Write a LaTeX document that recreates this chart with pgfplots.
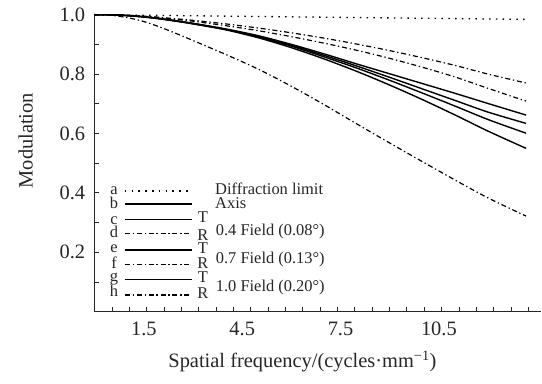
\documentclass[border=0pt]{standalone}
\usepackage{fontspec}
\setmainfont{Liberation Serif}
\usepackage{pgfplots}
\usepackage{pgfplotstable}
\pgfplotsset{compat=1.18}

\pgfplotstableread{
x     a      b      c      d      e      f      g      h
0     1      1      1      1      1      1      1      1
0.5   0.9994 0.9995 0.9995 0.9996 0.9995 0.9995 0.9995 0.998
1     0.9988 0.997  0.997  0.998  0.997  0.998  0.997  0.990
1.5   0.9982 0.993  0.993  0.995  0.993  0.994  0.992  0.977
2     0.9976 0.987  0.987  0.991  0.986  0.990  0.986  0.958
2.5   0.9970 0.979  0.979  0.986  0.978  0.984  0.978  0.936
3     0.9964 0.971  0.970  0.981  0.970  0.978  0.969  0.913
4     0.9952 0.952  0.951  0.969  0.950  0.963  0.949  0.866
5     0.9940 0.929  0.927  0.955  0.925  0.946  0.922  0.816
6     0.9928 0.900  0.897  0.939  0.894  0.926  0.889  0.759
7     0.9916 0.868  0.863  0.921  0.858  0.904  0.851  0.697
8     0.9904 0.834  0.827  0.901  0.820  0.880  0.809  0.632
9     0.9892 0.801  0.789  0.879  0.779  0.853  0.763  0.568
10    0.9880 0.768  0.750  0.855  0.736  0.823  0.714  0.505
11    0.9868 0.735  0.711  0.829  0.692  0.790  0.662  0.443
12    0.9856 0.701  0.672  0.800  0.647  0.752  0.608  0.383
13.16 0.9842 0.662  0.634  0.770  0.601  0.709  0.550  0.322
}\mtf

\tikzset{
  dashdot/.style={line width=1.2bp, dash pattern=on 5bp off 2.8bp on 1.3bp off 2.8bp},
  dotline/.style={line width=1.3bp, dash pattern=on 1.5bp off 5.3bp},
  solidline/.style={line width=1.4bp},
}

\begin{document}
\begin{tikzpicture}
\begin{axis}[
  scale only axis,
  width=445.8bp, height=297bp,
  xmin=0, xmax=13.6, ymin=0, ymax=1.0,
  clip=false,
  axis x line=bottom, axis y line=left,
  axis line style={line width=1.3bp, black!85, -},
  tick align=inside,
  major tick length=4.5bp, minor tick length=4.5bp,
  tick style={line width=1bp, black!85},
  xtick={1.5,4.5,7.5,10.5},
  xticklabels={1.5,4.5,7.5,10.5},
  major x tick style={draw=none},
  minor xtick={0.529,1.059,1.588,2.117,2.647,3.176,3.705,4.234,4.764,5.293,5.822,6.352,6.881,7.410,7.940,8.469,8.998,9.527,10.057,10.586,11.115,11.645,12.174,12.703,13.233},
  ytick={0.2,0.4,0.6,0.8,1.0},
  yticklabels={0.2,0.4,0.6,0.8,1.0},
  minor ytick={0.1,0.3,0.5,0.7,0.9},
  /pgf/number format/assume math mode=true,
  tick label style={font=\fontsize{20.5}{24}\selectfont, text=black!85},
  yticklabel style={xshift=-6bp},
  xticklabel style={yshift=-7bp},
  xlabel={Spatial frequency/(cycles·mm\textsuperscript{−1})},
  ylabel={Modulation},
  label style={font=\fontsize{20.5}{24}\selectfont, text=black!85},
  xlabel style={at={(axis description cs:0.466,-0.168)}, anchor=center},
  ylabel style={at={(axis description cs:-0.155,0.576)}, anchor=center, rotate=0},
]
\addplot[dotline] table[x=x,y=a]{\mtf};
\addplot[solidline, smooth] table[x=x,y=b]{\mtf};
\addplot[solidline, smooth] table[x=x,y=c]{\mtf};
\addplot[dashdot, smooth] table[x=x,y=d]{\mtf};
\addplot[solidline, smooth] table[x=x,y=e]{\mtf};
\addplot[dashdot, smooth] table[x=x,y=f]{\mtf};
\addplot[solidline, smooth] table[x=x,y=g]{\mtf};
\addplot[dashdot, smooth] table[x=x,y=h]{\mtf};

% legend drawn inside the plot
\begin{scope}[font=\fontsize{16.5}{18}\selectfont, text=black!85]
\draw[dotline]   (axis cs:0.92,0.406) -- (axis cs:2.97,0.406);
\draw[solidline] (axis cs:0.92,0.363) -- (axis cs:2.97,0.363);
\draw[solidline] (axis cs:0.92,0.311) -- (axis cs:2.97,0.311);
\draw[dashdot]   (axis cs:0.92,0.262) -- (axis cs:2.97,0.262);
\draw[solidline] (axis cs:0.92,0.208) -- (axis cs:2.97,0.208);
\draw[dashdot]   (axis cs:0.92,0.160) -- (axis cs:2.97,0.160);
\draw[solidline] (axis cs:0.92,0.109) -- (axis cs:2.97,0.109);
\draw[dashdot]   (axis cs:0.92,0.056) -- (axis cs:2.97,0.056);
\node[anchor=base, inner sep=0] at (axis cs:0.59,0.393) {a};
\node[anchor=base, inner sep=0] at (axis cs:0.59,0.348) {b};
\node[anchor=base, inner sep=0] at (axis cs:0.59,0.295) {c};
\node[anchor=base, inner sep=0] at (axis cs:0.59,0.249) {d};
\node[anchor=base, inner sep=0] at (axis cs:0.59,0.198) {e};
\node[anchor=base, inner sep=0] at (axis cs:0.59,0.147) {f};
\node[anchor=base, inner sep=0] at (axis cs:0.59,0.102) {g};
\node[anchor=base, inner sep=0] at (axis cs:0.59,0.0495) {h};
\node[anchor=base, inner sep=0] at (axis cs:3.30,0.300) {T};
\node[anchor=base, inner sep=0] at (axis cs:3.30,0.241) {R};
\node[anchor=base, inner sep=0] at (axis cs:3.30,0.196) {T};
\node[anchor=base, inner sep=0] at (axis cs:3.30,0.144) {R};
\node[anchor=base, inner sep=0] at (axis cs:3.30,0.100) {T};
\node[anchor=base, inner sep=0] at (axis cs:3.30,0.046) {R};
\node[anchor=base west, inner sep=0] at (axis cs:3.67,0.393) {Diffraction limit};
\node[anchor=base west, inner sep=0] at (axis cs:3.67,0.348) {Axis};
\node[anchor=base west, inner sep=0] at (axis cs:3.69,0.258) {0.4 Field (0.08°)};
\node[anchor=base west, inner sep=0] at (axis cs:3.69,0.163) {0.7 Field (0.13°)};
\node[anchor=base west, inner sep=0] at (axis cs:3.69,0.067) {1.0 Field (0.20°)};
\end{scope}
\end{axis}
\pgfresetboundingbox
\path[use as bounding box] ([shift={(-94.7bp,-72.3bp)}]current axis.south west) rectangle ++(542bp,384bp);
\end{tikzpicture}
\end{document}
